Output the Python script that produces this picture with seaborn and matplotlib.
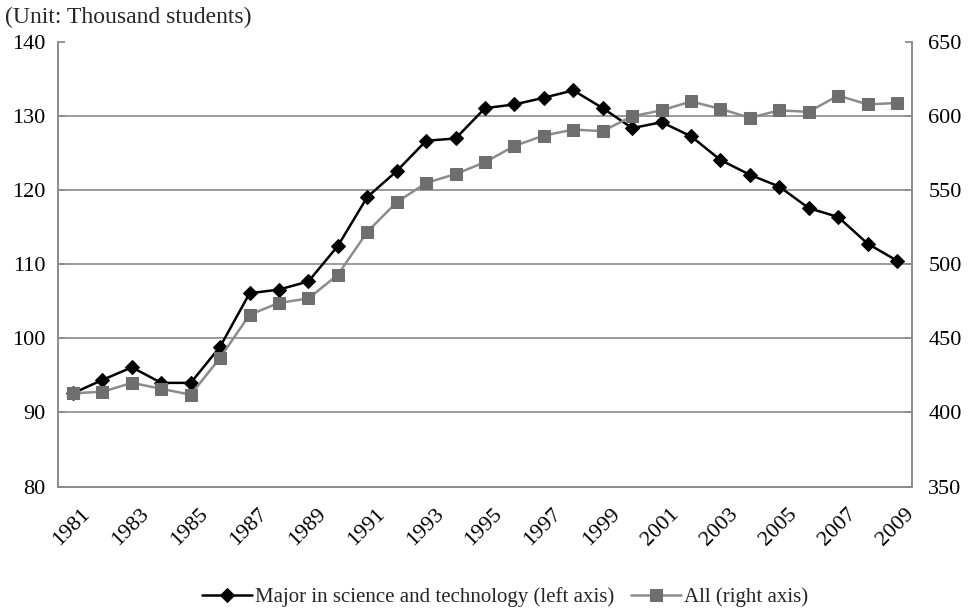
"""science & technology majors vs all students, twin-axis line chart"""
import matplotlib as mpl
mpl.use('Agg')
import matplotlib.pyplot as plt
import matplotlib.transforms as mtransforms
import numpy as np
import pandas as pd
import seaborn as sns

# data
years = list(range(1981, 2010))
sci_tech = [92.6, 94.4, 96.1, 94.0, 94.0, 98.9, 106.1, 106.6, 107.7, 112.5,
            119.1, 122.6, 126.7, 127.0, 131.1, 131.6, 132.5, 133.5, 131.1, 128.4,
            129.2, 127.3, 124.1, 122.1, 120.5, 117.6, 116.4, 112.8, 110.5]
all_students = [413, 414, 420, 416, 412, 437, 466, 474, 477, 493,
                522, 542, 555, 561, 569, 580, 587, 591, 590, 600,
                604, 610, 605, 599, 604, 603, 614, 608, 609]
x_labels = [str(y) for y in years[::2]]

sns.set_theme(style='white')
plt.rcParams.update({'font.family': ['Liberation Serif', 'DejaVu Serif'],
                     'font.size': 16})
FS = 16

df = pd.DataFrame({'year': years, 'sci': sci_tech, 'all': all_students})

fig, ax = plt.subplots(figsize=(9.72, 6.12), dpi=100)
fig.subplots_adjust(left=0.06, right=0.938, top=0.931, bottom=0.205)
ax2 = ax.twinx()

grey_axis = '#8a8a8a'

sns.lineplot(data=df, x='year', y='sci', ax=ax, color='black', lw=1.8,
             marker='D', markersize=7, markeredgecolor='black',
             label='Major in science and technology (left axis)', legend=False)
sns.lineplot(data=df, x='year', y='all', ax=ax2, color='#8c8c8c', lw=1.8,
             marker='s', markersize=9, markerfacecolor='#6e6e6e',
             markeredgecolor='#6e6e6e', label='All (right axis)', legend=False)

ax.set_xlim(1980.5, 2009.5)
ax.set_ylim(80, 140)
ax2.set_ylim(350, 650)
ax.set_yticks(np.arange(80, 141, 10))
ax2.set_yticks(np.arange(350, 651, 50))

# gridlines only at the inner values
for v in range(90, 140, 10):
    ax.axhline(v, color=grey_axis, lw=1.2, zorder=0)

ax.set_xticks(years[::2])
ax.set_xticklabels(x_labels, rotation=45, ha='right', rotation_mode='anchor')
ax.set_xticks(np.arange(1980.5, 2010, 1), minor=True)
ax.tick_params(axis='x', which='major', length=0, pad=13, labelsize=FS,
               labelcolor='black')
ax.tick_params(axis='x', which='minor', direction='in', length=5,
               color=grey_axis, width=1)
ax.tick_params(axis='y', direction='in', length=5, color=grey_axis, pad=9,
               labelsize=FS, labelcolor='black')
ax2.tick_params(axis='y', direction='in', length=5, color=grey_axis, pad=12,
                labelsize=FS, labelcolor='black')

# nudge rotated year labels a little to the right, like the original
shift = mtransforms.ScaledTranslation(8 / 100, 0, fig.dpi_scale_trans)
for lab in ax.get_xticklabels():
    lab.set_transform(lab.get_transform() + shift)

for a in (ax, ax2):
    a.set_xlabel('')
    a.set_ylabel('')
    a.spines['top'].set_visible(False)
    for s in ('left', 'right', 'bottom'):
        a.spines[s].set_color(grey_axis)
        a.spines[s].set_linewidth(1.2)

fig.text(0.005, 0.972, '(Unit: Thousand students)', ha='left', va='center',
         fontsize=17)

h1, l1 = ax.get_legend_handles_labels()
h2, l2 = ax2.get_legend_handles_labels()
fig.legend(h1 + h2, l1 + l2, loc='center', bbox_to_anchor=(0.52, 0.024),
           ncol=2, frameon=False, handlelength=2.4, handletextpad=0.15,
           columnspacing=0.8, fontsize=15)

fig.savefig('out.png', dpi=100)
